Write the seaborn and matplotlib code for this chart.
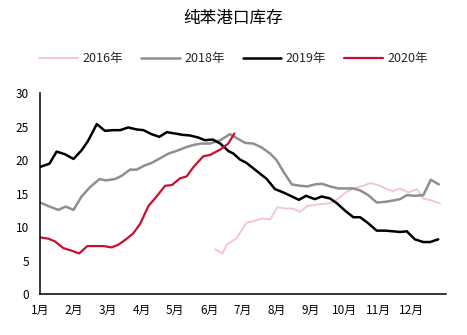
import matplotlib
matplotlib.use("Agg")
import matplotlib.pyplot as plt
import seaborn as sns
import pandas as pd

# ---- data (x in months since Jan 1, values in 10k tonnes) ----
x2016 = [5.18, 5.40, 5.52, 5.82, 6.11, 6.31, 6.56, 6.81, 7.02, 7.25, 7.48, 7.69, 7.91,
         8.19, 8.43, 8.63, 8.83, 9.02, 9.27, 9.57, 9.76, 10.01, 10.26, 10.45, 10.65,
         10.90, 11.15, 11.34, 11.59, 11.83]
y2016 = [6.7, 6.1, 7.4, 8.4, 10.7, 10.9, 11.3, 11.2, 13.0, 12.8, 12.8, 12.3, 13.2,
         13.4, 13.5, 13.7, 14.3, 15.1, 15.8, 16.2, 16.6, 16.3, 15.7, 15.4, 15.8,
         15.2, 15.7, 14.3, 14.0, 13.6]

x2018 = [0.00, 0.28, 0.54, 0.76, 0.99, 1.23, 1.48, 1.76, 1.95, 2.22, 2.42, 2.66, 2.86,
         3.08, 3.30, 3.55, 3.80, 4.04, 4.29, 4.54, 4.78, 5.03, 5.33, 5.62, 5.82, 6.07,
         6.31, 6.56, 6.81, 7.00, 7.20, 7.45, 7.69, 7.91, 8.13, 8.33, 8.58, 8.83, 9.07,
         9.27, 9.47, 9.71, 9.96, 10.21, 10.45, 10.65, 10.85, 11.09, 11.34, 11.56, 11.80]
y2018 = [13.7, 13.1, 12.6, 13.1, 12.6, 14.6, 16.0, 17.2, 17.0, 17.2, 17.7, 18.6, 18.6,
         19.2, 19.6, 20.3, 21.0, 21.4, 21.9, 22.3, 22.5, 22.5, 23.0, 23.9, 23.3, 22.6,
         22.5, 21.9, 21.0, 20.0, 18.3, 16.4, 16.2, 16.1, 16.4, 16.5, 16.1, 15.8, 15.8,
         15.8, 15.5, 14.8, 13.7, 13.8, 14.0, 14.2, 14.8, 14.7, 14.8, 17.1, 16.4]

x2019 = [0.00, 0.28, 0.49, 0.74, 0.99, 1.23, 1.41, 1.68, 1.92, 2.17, 2.37, 2.61, 2.86,
         3.06, 3.30, 3.53, 3.75, 3.99, 4.22, 4.44, 4.68, 4.88, 5.11, 5.33, 5.57, 5.72,
         5.92, 6.11, 6.51, 6.71, 6.95, 7.20, 7.45, 7.66, 7.87, 8.13, 8.33, 8.58, 8.78,
         9.02, 9.27, 9.47, 9.71, 9.96, 10.21, 10.45, 10.65, 10.85, 11.09, 11.34, 11.54, 11.78]
y2019 = [19.0, 19.5, 21.3, 20.9, 20.2, 21.5, 22.8, 25.4, 24.4, 24.5, 24.5, 24.9, 24.6,
         24.5, 23.9, 23.5, 24.2, 24.0, 23.8, 23.7, 23.4, 23.0, 23.1, 22.5, 21.4, 21.0,
         20.1, 19.6, 18.0, 17.2, 15.7, 15.2, 14.6, 14.1, 14.7, 14.2, 14.6, 14.3, 13.6,
         12.5, 11.5, 11.5, 10.6, 9.5, 9.5, 9.4, 9.3, 9.4, 8.2, 7.8, 7.8, 8.2]

x2020 = [0.00, 0.25, 0.44, 0.69, 0.94, 1.16, 1.40, 1.68, 1.87, 2.12, 2.32, 2.54, 2.76,
         2.96, 3.21, 3.45, 3.70, 3.90, 4.14, 4.34, 4.54, 4.83, 5.03, 5.33, 5.57, 5.75]
y2020 = [8.5, 8.3, 7.9, 6.9, 6.5, 6.1, 7.2, 7.2, 7.2, 7.0, 7.4, 8.2, 9.1,
         10.5, 13.2, 14.6, 16.2, 16.3, 17.3, 17.6, 19.0, 20.6, 20.8, 21.6, 22.5, 24.0]

series_names = ["2016年", "2018年", "2019年", "2020年"]
month_labels = ["1月", "2月", "3月", "4月", "5月", "6月", "7月", "8月", "9月", "10月", "11月", "12月"]
y_ticks = [0, 5, 10, 15, 20, 25, 30]
title = "纯苯港口库存"

colors = {"2016年": "#F4C7CC", "2018年": "#8F8F8F", "2019年": "#000000", "2020年": "#C8102E"}
widths = {"2016年": 1.4, "2018年": 1.8, "2019年": 1.8, "2020年": 1.6}

frames = []
for name, xs, ys in zip(series_names, [x2016, x2018, x2019, x2020], [y2016, y2018, y2019, y2020]):
    frames.append(pd.DataFrame({"month": xs, "value": ys, "year": name}))
df = pd.concat(frames, ignore_index=True)

sns.set_theme(style="white")
plt.rcParams["font.family"] = ["Noto Sans CJK SC", "DejaVu Sans"]

fig = plt.figure(figsize=(4.67, 3.35), dpi=100)
ax = fig.add_axes([0.0857, 0.1215, 0.8686, 0.6000])

for name in series_names:
    sub = df[df["year"] == name]
    sns.lineplot(data=sub, x="month", y="value", ax=ax, color=colors[name],
                 linewidth=widths[name], label=name, sort=False, estimator=None)

ax.set_xlim(0, 12)
ax.set_ylim(0, 30)
ax.set_xticks(range(13))
ax.set_xticklabels(month_labels + [""])
ax.set_yticks(y_ticks)
ax.set_xlabel("")
ax.set_ylabel("")
for s in ["top", "right"]:
    ax.spines[s].set_visible(False)
for s in ["left", "bottom"]:
    ax.spines[s].set_color("black")
    ax.spines[s].set_linewidth(1.1)
ax.tick_params(axis="both", direction="in", length=4, width=1.0, colors="black",
               labelsize=8.5, pad=7)
ax.tick_params(axis="y", pad=8)

handles, labels = ax.get_legend_handles_labels()
ax.legend(handles, labels, loc="center", bbox_to_anchor=(0.5, 0.824),
          bbox_transform=fig.transFigure, ncol=4, frameon=False, fontsize=9,
          handlelength=3.1, handletextpad=0.35, columnspacing=1.45)

fig.text(0.5, 0.945, title, ha="center", va="center", fontsize=12, color="black")

fig.savefig("out.png", dpi=100)
